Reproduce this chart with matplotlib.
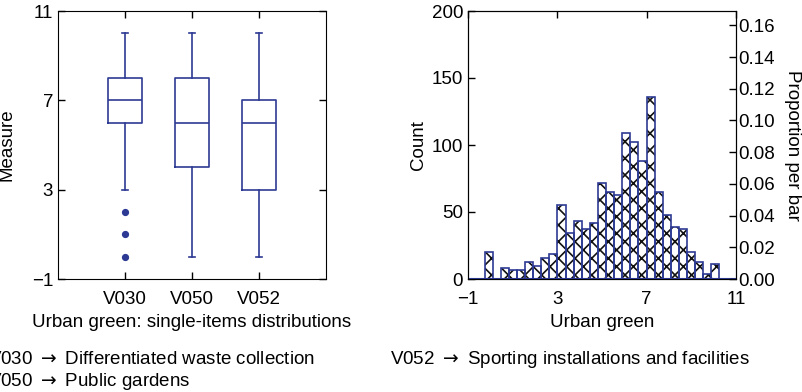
import numpy as np
import matplotlib
matplotlib.use('Agg')
import matplotlib.pyplot as plt

plt.rcParams['font.family'] = ['Liberation Sans', 'DejaVu Sans']
plt.rcParams['font.size'] = 13.5
plt.rcParams['hatch.linewidth'] = 1.2

## box summaries for the three urban green items
items = ['V030', 'V050', 'V052']
q1 = [6, 4, 3]
med = [7, 6, 6]
q3 = [8, 8, 7]
whis_lo = [3, 0, 0]
whis_hi = [10, 10, 10]
outliers = [[2, 1, 0], [], []]

## histogram of the urban green score
hist_lo, hist_hi = -0.26, 10.26
counts = np.array([20, 0, 8, 7, 7, 13, 10, 16, 19, 55, 34, 43, 37, 42, 72,
                   65, 63, 109, 102, 88, 136, 65, 48, 39, 37, 20, 13, 4, 11])

legend_lines = [
    r'V030$\;\rightarrow\;$Differentiated waste collection',
    r'V050$\;\rightarrow\;$Public gardens',
    r'V052$\;\rightarrow$ Sporting installations and facilities',
]

blue = '#2d3a94'
fs = 13.5

fig = plt.figure(figsize=(8.03, 3.92), dpi=100)
ax_box = fig.add_axes([58/803, 1 - 279/392, 268/803, 268/392])
ax_hist = fig.add_axes([468/803, 1 - 279/392, 268/803, 268/392])

## ---- left: boxplots ----
stats = []
for i, name in enumerate(items):
    stats.append(dict(label=name, q1=q1[i], med=med[i], q3=q3[i],
                      whislo=whis_lo[i], whishi=whis_hi[i], fliers=outliers[i]))

lp = dict(color=blue, linewidth=1.2)
ax_box.bxp(stats, positions=[1, 2, 3], widths=0.5, capwidths=0.09,
           boxprops=lp, whiskerprops=lp, capprops=lp, medianprops=lp,
           flierprops=dict(marker='o', markerfacecolor=blue, markeredgecolor=blue,
                           markersize=4.2, linestyle='none'))
ax_box.set_xlim(0, 4)
ax_box.set_ylim(-1, 11)
ax_box.set_yticks([-1, 3, 7, 11])
ax_box.set_xticks([1, 2, 3])
ax_box.set_xticklabels(items)
ax_box.tick_params(direction='in', length=5, width=1, top=True, right=True,
                   labelsize=fs)
ax_box.tick_params(axis='x', pad=9)
ax_box.set_ylabel('Measure', fontsize=fs)
ax_box.yaxis.set_label_coords(-0.159, 0.5)
ax_box.set_xlabel('Urban green: single-items distributions', fontsize=fs, labelpad=4)

## ---- right: histogram with count and proportion scales ----
edges = np.linspace(hist_lo, hist_hi, len(counts) + 1)
widths = np.diff(edges)
ax_hist.bar(edges[:-1], counts, width=widths, align='edge', facecolor='white',
            edgecolor='#111111', linewidth=0, hatch='xx', zorder=2)
ax_hist.bar(edges[:-1], counts, width=widths, align='edge', fill=False,
            edgecolor=blue, linewidth=1.2, zorder=3)
ax_hist.axhline(0, color=blue, linewidth=1.5, zorder=4)
ax_hist.set_xlim(-1, 11)
ax_hist.set_ylim(0, 200)
ax_hist.set_xticks([-1, 3, 7, 11])
ax_hist.set_yticks([0, 50, 100, 150, 200])
ax_hist.tick_params(direction='in', length=5, width=1, top=True, labelsize=fs)
ax_hist.tick_params(axis='x', pad=9, bottom=False)
ax_hist.set_ylabel('Count', fontsize=fs)
ax_hist.yaxis.set_label_coords(-0.153, 0.5)
ax_hist.set_xlabel('Urban green', fontsize=fs, labelpad=4)

ax_prop = ax_hist.twinx()
ax_prop.set_ylim(0, 200 / counts.sum())
ax_prop.set_yticks(np.arange(0, 0.17, 0.02))
ax_prop.yaxis.set_major_formatter(plt.FormatStrFormatter('%.2f'))
ax_prop.tick_params(direction='in', length=5, width=1, pad=1.5, labelsize=fs)
ax_prop.set_ylabel('Proportion per bar', rotation=270, fontsize=fs, va='center')
ax_prop.yaxis.set_label_coords(1.21, 0.5)

## ---- item key below the panels ----
fig.text(-12/803, 1 - 359/392, legend_lines[0], fontsize=fs, va='center', ha='left')
fig.text(-12/803, 1 - 382/392, legend_lines[1], fontsize=fs, va='center', ha='left')
fig.text(390/803, 1 - 359/392, legend_lines[2], fontsize=fs, va='center', ha='left')

fig.savefig('out.png', dpi=100)
